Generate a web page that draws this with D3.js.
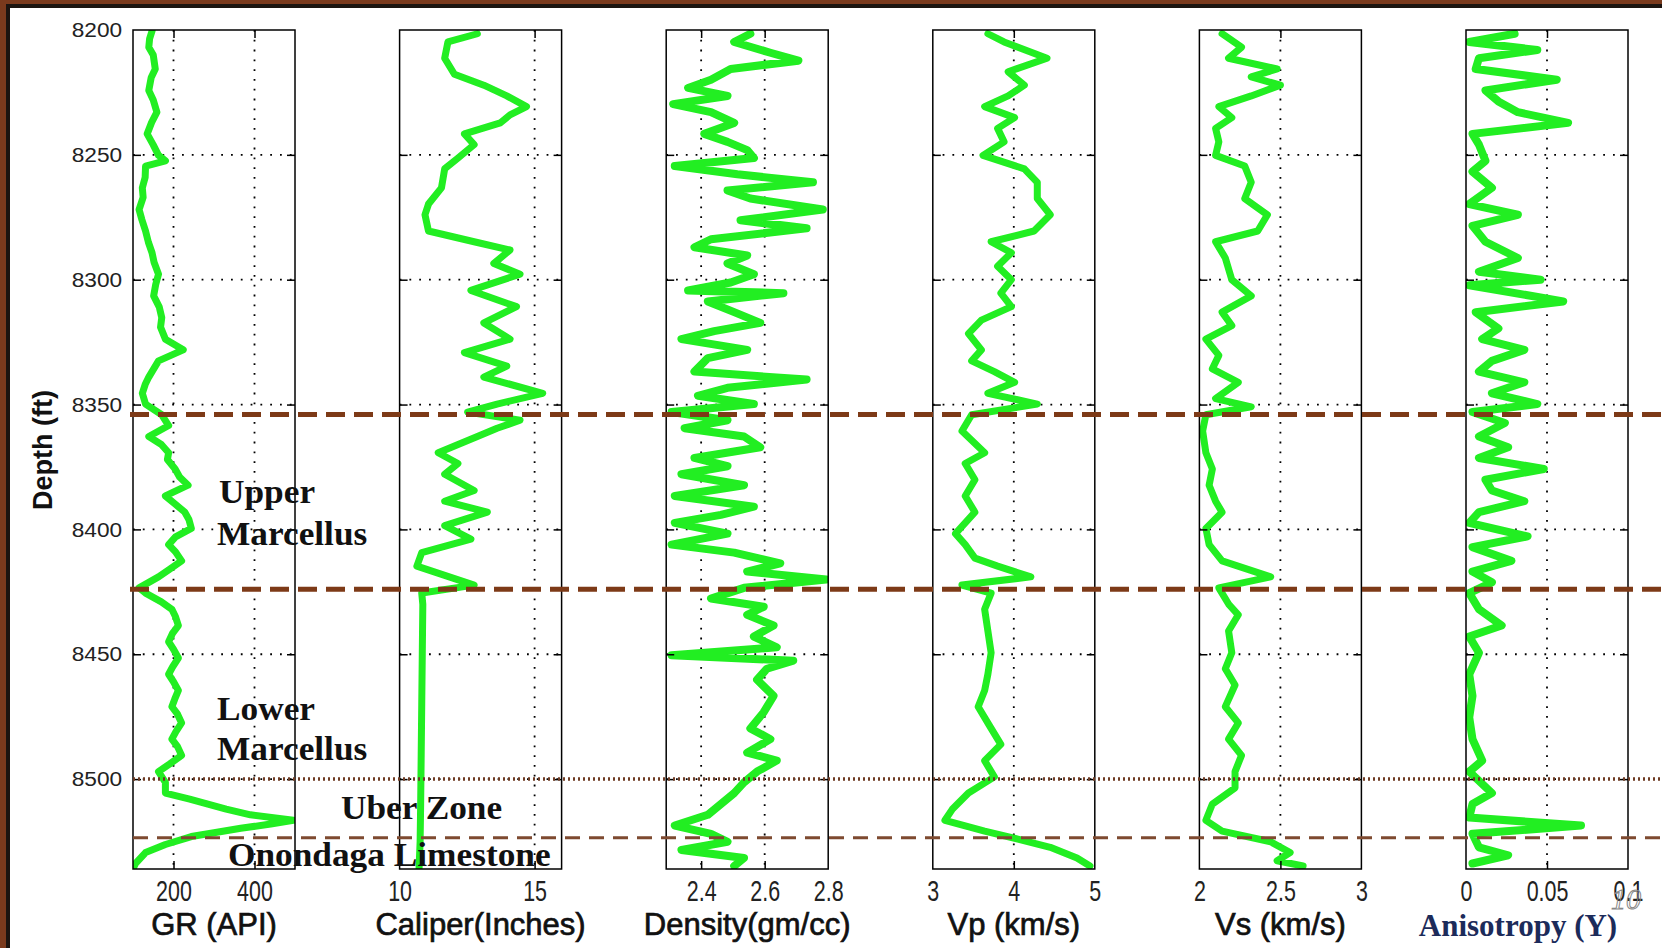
<!DOCTYPE html>
<html>
<head>
<meta charset="utf-8">
<script src="https://cdn.jsdelivr.net/npm/d3@7"></script>
<style>
  html, body { margin: 0; padding: 0; background: #7a3a1d; }
  svg { display: block; }
</style>
</head>
<body>
<svg id="chart" width="1662" height="948"></svg>
<script>
// ---- data ----
var depthRange = [8200, 8536];
var depthTicks = [8200, 8250, 8300, 8350, 8400, 8450, 8500];
var trackNames = ["GR (API)", "Caliper(Inches)", "Density(gm/cc)", "Vp (km/s)", "Vs (km/s)", "Anisotropy (\u03A5)"];
var trackDomains = [[100, 500], [10, 16], [2.29, 2.8], [3, 5], [2, 3], [0, 0.1]];
var trackTicks = [[200, 400], [10, 15], [2.4, 2.6, 2.8], [3, 4, 5], [2, 2.5, 3], [0, 0.05, 0.1]];
var tickLabels = [["200", "400"], ["10", "15"], ["2.4", "2.6", "2.8"], ["3", "4", "5"], ["2", "2.5", "3"], ["0", "0.05", "0.1"]];
var boundaryDepths = [8354, 8424];
var onondagaDepth = 8523.5;
var uberDepth = 8500;
var zoneNames = ["Upper", "Marcellus", "Lower", "Marcellus", "Uber Zone", "Onondaga Limestone"];

// [depth ft, value]
var gr = [[8200.4,147],[8203.5,141],[8206.9,139],[8210,150],[8215.6,155],[8219,145],[8224.2,139],[8228,150],[8232.9,159],[8237,146],[8241.6,135],[8246,150],[8250.2,163],[8252.4,180],[8254.5,131],[8259,130],[8263.2,123],[8267,125],[8271.9,115],[8276,122],[8280.5,131],[8285,138],[8289.2,147],[8293,152],[8297.8,163],[8302,156],[8306.5,151],[8311,165],[8315.2,171],[8319,168],[8323.8,180],[8328.1,224],[8332.5,163],[8336,150],[8339.0,139],[8342,130],[8345.5,123],[8349.8,131],[8354.1,171],[8358.4,188],[8362.8,139],[8366,170],[8369.3,188],[8372,185],[8375.8,204],[8379,215],[8382.3,236],[8386.6,180],[8390,205],[8393.1,228],[8396,238],[8399.6,244],[8403,205],[8406.1,188],[8409,205],[8412.6,220],[8416,190],[8419.0,163],[8423.4,115],[8425.5,131],[8429,170],[8432.0,196],[8435,205],[8438.5,212],[8441.5,198],[8445.0,188],[8448,200],[8451.5,212],[8455,198],[8458.0,188],[8461,200],[8464.5,212],[8468,203],[8471.0,196],[8474,210],[8477.5,220],[8481,206],[8484.0,196],[8487,210],[8490.5,220],[8494,190],[8497.0,163],[8501.3,180],[8505.6,180],[8508,240],[8510.0,285],[8512,330],[8514.3,390],[8516.5,496],[8518,440],[8519.7,366],[8521.5,300],[8523.0,244],[8526.2,180],[8529.4,131],[8533.8,106],[8536,100]];
var caliper = [[8201.5,12.88],[8204.8,11.79],[8211.3,11.67],[8217.7,12.03],[8222.1,13.12],[8226.4,13.97],[8230.7,14.70],[8234.0,14.09],[8237.2,13.73],[8241.6,12.40],[8245.9,12.76],[8251.3,12.16],[8255.6,11.67],[8263.2,11.55],[8269.7,11.07],[8274.0,10.94],[8280.5,11.07],[8284.8,12.76],[8288.1,14.09],[8293.5,13.49],[8297.8,14.46],[8304.3,12.64],[8310.8,14.33],[8317.3,13.12],[8323.8,14.09],[8329.2,12.40],[8334.6,13.97],[8339.0,13.12],[8345.5,15.30],[8349.8,13.61],[8353.0,12.52],[8356.3,14.46],[8359.5,13.61],[8362.8,12.88],[8369.3,11.43],[8373.6,12.16],[8377.9,11.67],[8384.4,12.76],[8388.7,11.67],[8393.1,13.25],[8398.5,11.67],[8403.9,12.64],[8409.3,10.82],[8414.7,10.64],[8422.3,12.76],[8425.5,10.82],[8430,10.86],[8450,10.84],[8470,10.82],[8490,10.80],[8510,10.78],[8525,10.76],[8536,10.72]];
var density = [[8201.5,2.555],[8204.8,2.504],[8209.1,2.618],[8212.3,2.706],[8215.6,2.493],[8219.9,2.431],[8223.2,2.359],[8226.4,2.483],[8229.7,2.312],[8232.9,2.431],[8237.2,2.504],[8241.6,2.410],[8244.8,2.483],[8248.1,2.545],[8251.3,2.566],[8254.5,2.317],[8257.8,2.514],[8261.0,2.752],[8264.3,2.483],[8267.5,2.555],[8271.9,2.783],[8276.2,2.524],[8279.4,2.732],[8283.8,2.431],[8287.0,2.379],[8290.3,2.545],[8293.5,2.483],[8297.8,2.566],[8301.1,2.493],[8304.3,2.359],[8305.4,2.659],[8308.7,2.421],[8313.0,2.504],[8317.3,2.586],[8320.6,2.441],[8323.8,2.338],[8328.1,2.545],[8331.4,2.421],[8336.8,2.379],[8340.0,2.732],[8343.3,2.483],[8346.5,2.390],[8349.8,2.566],[8353.0,2.307],[8356.3,2.483],[8359.5,2.348],[8362.8,2.535],[8367.1,2.586],[8371.4,2.379],[8374.7,2.483],[8377.9,2.338],[8382.3,2.535],[8386.6,2.317],[8390.9,2.566],[8394.2,2.462],[8397.4,2.317],[8401.7,2.483],[8406.1,2.307],[8409.3,2.504],[8413.6,2.649],[8416.9,2.545],[8420.1,2.794],[8423.4,2.535],[8427.7,2.431],[8431.0,2.597],[8434.2,2.545],[8438.5,2.628],[8442.9,2.566],[8447.2,2.638],[8450.4,2.307],[8452.6,2.690],[8455.8,2.607],[8460.2,2.576],[8466.7,2.628],[8473.2,2.597],[8479.7,2.555],[8484.0,2.618],[8489.4,2.545],[8492.6,2.638],[8497.0,2.576],[8501.3,2.535],[8505.6,2.504],[8510.0,2.462],[8514.3,2.421],[8518.6,2.317],[8521.9,2.431],[8525.1,2.483],[8528.4,2.338],[8531.6,2.535],[8534.8,2.504]];
var vp = [[8201.5,3.68],[8204.8,3.88],[8211.3,4.41],[8216.7,3.93],[8222.1,4.13],[8226.4,3.93],[8230.7,3.64],[8235.1,4.01],[8239.4,3.80],[8244.8,3.88],[8250.2,3.62],[8255.6,4.13],[8261.0,4.29],[8267.5,4.29],[8274.0,4.45],[8280.5,4.25],[8284.8,3.72],[8289.2,3.97],[8294.6,3.80],[8300.0,3.97],[8305.4,3.84],[8310.8,3.97],[8316.2,3.60],[8321.6,3.44],[8328.1,3.60],[8332.5,3.48],[8336.8,3.76],[8341.1,4.01],[8345.5,3.68],[8349.8,4.29],[8354.1,3.48],[8360.6,3.36],[8369.3,3.64],[8373.6,3.40],[8380.1,3.52],[8386.6,3.40],[8393.1,3.52],[8401.7,3.28],[8406.1,3.40],[8411.5,3.52],[8414.7,3.80],[8419.0,4.21],[8422.3,3.36],[8425.5,3.72],[8432.0,3.64],[8440.7,3.68],[8449.4,3.72],[8458.0,3.68],[8464.5,3.64],[8471.0,3.56],[8479.7,3.72],[8486.1,3.84],[8492.6,3.64],[8499.1,3.76],[8505.6,3.44],[8512.1,3.24],[8516.5,3.15],[8520.8,3.64],[8524.0,4.05],[8527.3,4.45],[8531.6,4.78],[8534.8,4.94]];
var vs = [[8201.5,2.14],[8206.9,2.26],[8211.3,2.18],[8215.6,2.48],[8218.8,2.32],[8222.1,2.50],[8226.4,2.32],[8230.7,2.12],[8235.1,2.20],[8239.4,2.10],[8244.8,2.12],[8250.2,2.10],[8254.5,2.28],[8261.0,2.32],[8267.5,2.28],[8274.0,2.42],[8280.5,2.36],[8284.8,2.10],[8291.3,2.16],[8300.0,2.20],[8306.5,2.32],[8313.0,2.14],[8318.4,2.20],[8323.8,2.04],[8330.3,2.12],[8335.7,2.08],[8341.1,2.24],[8347.6,2.10],[8350.9,2.32],[8354.1,2.04],[8360.6,2.02],[8369.3,2.04],[8375.8,2.08],[8382.3,2.06],[8388.7,2.10],[8393.1,2.14],[8399.6,2.04],[8406.1,2.06],[8412.6,2.14],[8419.0,2.44],[8423.4,2.12],[8429.9,2.18],[8434.2,2.24],[8440.7,2.18],[8449.4,2.20],[8455.8,2.16],[8462.3,2.22],[8471.0,2.16],[8477.5,2.24],[8484.0,2.18],[8490.5,2.26],[8497.0,2.22],[8503.5,2.22],[8510.0,2.08],[8516.5,2.04],[8520.8,2.14],[8525.1,2.44],[8529.4,2.56],[8532.7,2.48],[8534.8,2.64]];
var aniso = [[8201.5,0.030],[8204.8,0.002],[8208.0,0.044],[8211.3,0.008],[8215.6,0.006],[8219.9,0.056],[8224.2,0.012],[8228.6,0.020],[8232.9,0.032],[8237.2,0.063],[8241.6,0.004],[8245.9,0.008],[8252.4,0.012],[8256.7,0.004],[8263.2,0.016],[8269.7,0.002],[8274.0,0.032],[8278.4,0.004],[8284.8,0.012],[8291.3,0.032],[8296.8,0.008],[8300.0,0.046],[8302.2,0.002],[8308.7,0.060],[8313.0,0.006],[8319.5,0.020],[8323.8,0.010],[8328.1,0.036],[8332.5,0.016],[8336.8,0.008],[8341.1,0.036],[8345.5,0.016],[8349.8,0.044],[8353.0,0.004],[8357.4,0.024],[8362.8,0.008],[8367.1,0.026],[8371.4,0.008],[8375.8,0.048],[8380.1,0.012],[8384.4,0.016],[8388.7,0.036],[8393.1,0.008],[8397.4,0.002],[8402.8,0.038],[8407.1,0.004],[8412.6,0.028],[8416.9,0.004],[8421.2,0.016],[8425.5,0.002],[8432.0,0.008],[8438.5,0.022],[8442.9,0.002],[8449.4,0.008],[8458.0,0.002],[8466.7,0.004],[8475.3,0.002],[8484.0,0.004],[8492.6,0.010],[8497.0,0.002],[8505.6,0.016],[8510.0,0.004],[8515.4,0.002],[8518.6,0.071],[8521.9,0.004],[8527.3,0.008],[8530.5,0.026],[8533.8,0.004]];
var curves = [gr, caliper, density, vp, vs, aniso];

// ---- layout ----
var W = 1662, H = 948;
var plotTop = 30, plotBottom = 869, panelW = 162, firstLeft = 133, step = 266.6;
var green = "#22ee22", brown = "#7d3a17";
var curveWidth = [7, 7, 8, 7, 7, 8];

var svg = d3.select("#chart");

// slide frame
svg.append("rect").attr("x", 6).attr("y", 4).attr("width", W - 6).attr("height", H - 4).attr("fill", "#1b1410");
svg.append("rect").attr("x", 10).attr("y", 8).attr("width", W - 10).attr("height", H - 8).attr("fill", "#ffffff");

var y = d3.scaleLinear().domain(depthRange).range([plotTop, plotBottom]);
var innerDepths = depthTicks.filter(function (d) { return d > depthRange[0] && d < depthRange[1]; });

var defs = svg.append("defs");

curves.forEach(function (data, i) {
    var left = firstLeft + i * step;
    var x = d3.scaleLinear().domain(trackDomains[i]).range([left, left + panelW]);
    var g = svg.append("g").attr("class", "track");

    // grid
    var innerX = trackTicks[i].filter(function (t) { return t > trackDomains[i][0] && t < trackDomains[i][1]; });
    g.selectAll(".hgrid").data(innerDepths).enter().append("line")
        .attr("x1", left).attr("x2", left + panelW)
        .attr("y1", function (d) { return y(d); }).attr("y2", function (d) { return y(d); })
        .attr("stroke", "#000").attr("stroke-width", 1.8).attr("stroke-dasharray", "1.8,8");
    g.selectAll(".vgrid").data(innerX).enter().append("line")
        .attr("x1", function (d) { return x(d); }).attr("x2", function (d) { return x(d); })
        .attr("y1", plotTop).attr("y2", plotBottom)
        .attr("stroke", "#000").attr("stroke-width", 1.8).attr("stroke-dasharray", "1.8,8");

    // the log curve
    defs.append("clipPath").attr("id", "clip" + i).append("rect")
        .attr("x", left).attr("y", plotTop).attr("width", panelW).attr("height", plotBottom - plotTop);
    var line = d3.line()
        .x(function (d) { return x(d[1]); })
        .y(function (d) { return y(d[0]); });
    g.append("path").datum(data)
        .attr("clip-path", "url(#clip" + i + ")")
        .attr("d", line)
        .attr("fill", "none").attr("stroke", green)
        .attr("stroke-width", curveWidth[i]).attr("stroke-linejoin", "round").attr("stroke-linecap", "round");

    // inner ticks on all sides
    g.append("g").attr("transform", "translate(0," + plotBottom + ")")
        .call(d3.axisTop(x).tickValues(innerX).tickSize(8).tickFormat(""))
        .call(function (a) { a.select(".domain").remove(); a.selectAll("line").attr("stroke-width", 1.5); });
    g.append("g").attr("transform", "translate(0," + plotTop + ")")
        .call(d3.axisBottom(x).tickValues(innerX).tickSize(8).tickFormat(""))
        .call(function (a) { a.select(".domain").remove(); a.selectAll("line").attr("stroke-width", 1.5); });
    g.append("g").attr("transform", "translate(" + left + ",0)")
        .call(d3.axisRight(y).tickValues(innerDepths).tickSize(8).tickFormat(""))
        .call(function (a) { a.select(".domain").remove(); a.selectAll("line").attr("stroke-width", 1.5); });
    g.append("g").attr("transform", "translate(" + (left + panelW) + ",0)")
        .call(d3.axisLeft(y).tickValues(innerDepths).tickSize(8).tickFormat(""))
        .call(function (a) { a.select(".domain").remove(); a.selectAll("line").attr("stroke-width", 1.5); });

    // frame
    g.append("rect").attr("x", left).attr("y", plotTop).attr("width", panelW).attr("height", plotBottom - plotTop)
        .attr("fill", "none").attr("stroke", "#000").attr("stroke-width", 1.5);

    // tick labels under the track
    var xa = g.append("g").attr("transform", "translate(0," + plotBottom + ")")
        .call(d3.axisBottom(x).tickValues(trackTicks[i]).tickSize(0).tickPadding(0)
            .tickFormat(function (d, j) { return tickLabels[i][j]; }));
    xa.select(".domain").remove();
    xa.selectAll("text")
        .attr("y", 32).attr("dy", 0)
        .attr("transform", "scale(0.74,1)")
        .attr("font-family", "Liberation Sans, Arial, sans-serif")
        .attr("font-size", 29).attr("fill", "#222");

    // track title
    if (i < 5) {
        g.append("text").attr("x", left + panelW / 2).attr("y", 935)
            .attr("text-anchor", "middle")
            .attr("font-family", "Liberation Sans, Arial, sans-serif")
            .attr("font-size", 31).attr("fill", "#111")
            .attr("stroke", "#111").attr("stroke-width", 0.7)
            .text(trackNames[i]);
    } else {
        g.append("text").attr("x", left + panelW / 2 - 29).attr("y", 936)
            .attr("text-anchor", "middle")
            .attr("font-family", "Liberation Serif, Times New Roman, serif")
            .attr("font-weight", "bold")
            .attr("font-size", 31).attr("fill", "#1c2b5a")
            .text(trackNames[i]);
    }
});

// depth axis labels
var ya = svg.append("g").attr("transform", "translate(" + firstLeft + ",0)")
    .call(d3.axisLeft(y).tickValues(depthTicks).tickSize(0).tickPadding(10).tickFormat(d3.format("d")));
ya.select(".domain").remove();
ya.selectAll("text")
    .attr("font-family", "Liberation Sans, Arial, sans-serif")
    .attr("font-size", 21).attr("fill", "#222")
    .attr("transform", "scale(1.08,1)");

svg.append("text")
    .attr("transform", "translate(52," + 450 + ") rotate(-90)")
    .attr("text-anchor", "middle")
    .attr("font-family", "Liberation Sans, Arial, sans-serif")
    .attr("font-weight", "bold").attr("font-size", 27).attr("fill", "#111")
    .text("Depth (ft)");

// formation boundaries
svg.selectAll(".boundary").data(boundaryDepths).enter().append("line")
    .attr("x1", 130).attr("x2", W)
    .attr("y1", function (d) { return y(d); }).attr("y2", function (d) { return y(d); })
    .attr("stroke", brown).attr("stroke-width", 5).attr("stroke-dasharray", "19,9");
svg.append("line")
    .attr("x1", 133).attr("x2", W).attr("y1", y(onondagaDepth)).attr("y2", y(onondagaDepth))
    .attr("stroke", "#7e4a30").attr("stroke-width", 3).attr("stroke-dasharray", "15,9");
svg.append("line")
    .attr("x1", 133).attr("x2", W).attr("y1", y(uberDepth)).attr("y2", y(uberDepth))
    .attr("stroke", "#6e3a22").attr("stroke-width", 3.5).attr("stroke-dasharray", "2,3");

// zone names
var zonePos = [[219, 503], [217, 545], [217, 720], [217, 760], [341, 819], [228, 866]];
svg.selectAll(".zone").data(zoneNames).enter().append("text")
    .attr("transform", function (d, j) { return "translate(" + zonePos[j][0] + "," + zonePos[j][1] + ") scale(1.07,1)"; })
    .attr("font-family", "Liberation Serif, Times New Roman, serif")
    .attr("font-weight", "bold").attr("font-size", 33).attr("fill", "#111")
    .text(function (d) { return d; });

// slide number
svg.append("text").attr("x", 1626).attr("y", 909).attr("text-anchor", "middle")
    .attr("font-family", "Liberation Serif, Times New Roman, serif")
    .attr("font-style", "italic")
    .attr("font-size", 30).attr("fill", "none").attr("stroke", "#888").attr("stroke-width", 1)
    .text("10");
</script>
</body>
</html>
